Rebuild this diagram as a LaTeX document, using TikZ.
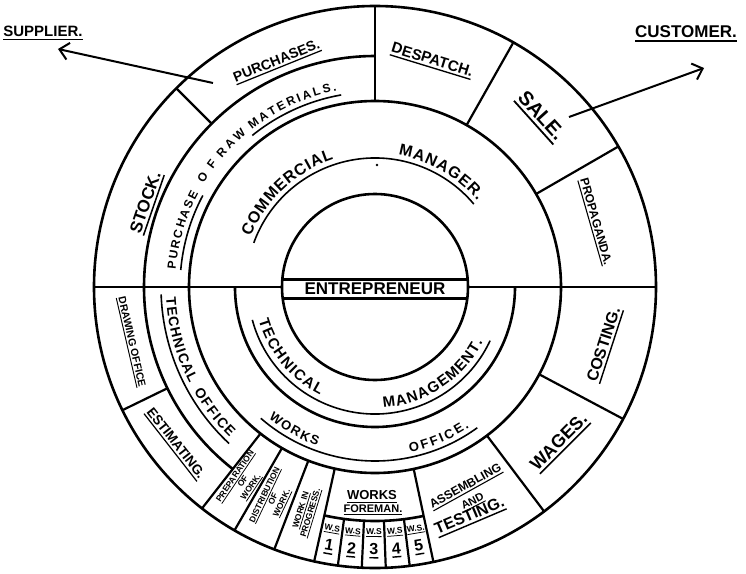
\documentclass[tikz,border=0pt]{standalone}
\usepackage{fontspec}
\newfontfamily\hand{Liberation Sans}
\usetikzlibrary{decorations.text,arrows.meta}
\newcommand\ulx[1]{\leavevmode\setbox0\hbox{#1}\rlap{\rule[-0.24em]{\wd0}{0.09em}}\box0}
\newcommand\hfs[1]{\fontsize{#1}{#1}\selectfont}
\newcommand\arctxt[5]{\path[decorate,decoration={text along path,text align={fit to path},text={|\hand\bfseries\hfs{#1}|#5}}] (#3:#2) arc[start angle=#3,end angle=#4,radius=#2];}
\begin{document}
\begin{tikzpicture}[x=1pt,y=1pt,
  ring/.style={line width=2.6pt},
  divider/.style={line width=2.2pt},
  uline/.style={line width=1.6pt},
  lab/.style={font=\hand\bfseries, inner sep=0pt, text=black},
  arr/.style={line width=2pt, -{Straight Barb[length=9pt,width=17pt,line width=2pt]}}
]
\fill[white] (-375,-286) rectangle (371,287);
\useasboundingbox (-375,-286) rectangle (371,287);

% rings
\draw[ring] (0,0) circle[radius=93pt];
\draw[ring] (0,0) circle[radius=186pt];
\draw[ring] (0,0) circle[radius=281pt];
\draw[ring] (180:140pt) arc[start angle=180,end angle=360,radius=140pt];
\draw[ring] (90:231pt) arc[start angle=90,end angle=232,radius=231pt];
\draw[ring] (257.5:234pt) arc[start angle=257.5,end angle=282,radius=234pt];
\draw[ring] (-281,0) -- (-93,0);
\draw[ring] (93,0) -- (281,0);
\draw[divider] (-92.7,7.5) -- (92.7,7.5);
\draw[divider] (-92.3,-11.5) -- (92.3,-11.5);

% radial dividers
\foreach \a/\r in {90/186pt, 135/231pt, 60.5/186pt, 30/186pt, 206/231pt, 232/186pt,
  240/186pt, 249/186pt, 257.5/186pt, 262.4/234pt, 267.3/234pt, 272.2/234pt,
  277.1/234pt, 282/186pt, 307/186pt, 332/186pt}
  \draw[divider] (\a:\r) -- (\a:281pt);

% underline arcs
\draw[uline] (160:129pt) arc[start angle=160,end angle=40,radius=129pt];
\draw[uline] (175:195pt) arc[start angle=175,end angle=152,radius=195pt];
\draw[uline] (129:195pt) arc[start angle=129,end angle=100,radius=195pt];
\draw[uline] (182:214pt) arc[start angle=182,end angle=227,radius=214pt];
\draw[uline] (195:127pt) arc[start angle=195,end angle=335,radius=127pt];
\draw[uline] (229:174pt) arc[start angle=229,end angle=306,radius=174pt];
\fill (2,122) circle[radius=1.3pt];

% curved texts
\arctxt{16}{134pt}{158}{108}{COMMERCIAL}
\arctxt{16}{134pt}{80}{40}{MANAGER.}
\arctxt{12}{200pt}{175}{152}{PURCHASE}
\arctxt{12}{200pt}{149}{142}{OF}
\arctxt{12}{200pt}{140}{130}{RAW}
\arctxt{12}{200pt}{128}{101}{MATERIALS.}
\arctxt{15}{121pt}{196}{243}{TECHNICAL}
\arctxt{15}{121pt}{274}{333}{MANAGEMENT.}
\arctxt{14}{209pt}{183}{207.5}{TECHNICAL}
\arctxt{14}{209pt}{210}{226}{OFFICE}
\arctxt{13}{169pt}{231}{250}{WORKS}
\arctxt{13}{169pt}{282}{304}{OFFICE.}

% straight labels
\node[lab,font=\hand\bfseries\hfs{17}] (entre) at (0,-2) {ENTREPRENEUR};
\node[lab,font=\hand\bfseries\hfs{17},rotate=71] (stock) at (-228,84) {\ulx{STOCK.}};
\node[lab,font=\hand\bfseries\hfs{14},rotate=22] (purch) at (-98,225) {\ulx{PURCHASES.}};
\node[lab,font=\hand\bfseries\hfs{15},rotate=-17] (desp) at (57,226) {\ulx{DESPATCH.}};
\node[lab,font=\hand\bfseries\hfs{20},rotate=-48] (sale) at (165,170) {\ulx{SALE.}};
\node[lab,font=\hand\bfseries\hfs{12},rotate=-74] (prop) at (220,65) {\ulx{PROPAGANDA.}};
\node[lab,font=\hand\bfseries\hfs{16},rotate=72] (cost) at (230,-58) {\ulx{COSTING.}};
\node[lab,font=\hand\bfseries\hfs{18},rotate=45] (wages) at (185,-156) {\ulx{WAGES.}};
\node[lab,font=\hand\bfseries\hfs{12},rotate=29] (assem) at (91,-200) {\ulx{ASSEMBLING}};
\node[lab,font=\hand\bfseries\hfs{11},rotate=27] (andl) at (98,-215) {\ulx{AND}};
\node[lab,font=\hand\bfseries\hfs{16},rotate=23] (test) at (95,-230) {\ulx{TESTING.}};
\node[lab,font=\hand\bfseries\hfs{13}] (works) at (-3,-210) {\ulx{WORKS}};
\node[lab,font=\hand\bfseries\hfs{11}] (foreman) at (-2,-223) {\ulx{FOREMAN.}};
\node[lab,font=\hand\bfseries\hfs{13.5},rotate=-52] (estim) at (-200,-157) {\ulx{ESTIMATING.}};
\node[lab,font=\hand\bfseries\hfs{10.5},rotate=-77] (drawo) at (-244,-55) {\ulx{DRAWING OFFICE}};
\node[lab,font=\hand\bfseries\fontsize{8.5}{9.5}\selectfont,align=center,rotate=56] (prep) at (236:235pt) {\ulx{PREPARATION}\\OF\\\ulx{WORK.}};
\node[lab,font=\hand\bfseries\fontsize{8.5}{9.5}\selectfont,align=center,rotate=64.5] (distr) at (244.5:235pt) {\ulx{DISTRIBUTION}\\OF\\\ulx{WORK.}};
\node[lab,font=\hand\bfseries\fontsize{8.5}{10}\selectfont,align=center,rotate=73] (wip) at (253:235pt) {\ulx{WORK IN}\\\ulx{PROGRESS.}};
\foreach \i/\a/\t in {1/259.95/W.S, 2/264.85/W.S, 3/269.75/W.S, 4/274.65/W.S, 5/279.55/W.S.} {
  \node[lab,font=\hand\bfseries\hfs{8.5},rotate=\a-270] (ws\i) at (\a:246pt) {\ulx{\t}};
  \node[lab,font=\hand\bfseries\hfs{16},rotate=\a-270] (num\i) at (\a:264pt) {\ulx{\i}};
}

% supplier / customer
\node[lab,font=\hand\bfseries\hfs{15}] (supplier) at (-332,254) {\ulx{SUPPLIER.}};
\node[lab,font=\hand\bfseries\hfs{17}] (customer) at (311,253) {\ulx{CUSTOMER.}};
\coordinate (supfrom) at (-162,204);
\coordinate (supto) at (-317,238);
\coordinate (custfrom) at (194,170);
\coordinate (custto) at (329,219);
\draw[arr] (supfrom) -- (supto);
\draw[arr] (custfrom) -- (custto);
\end{tikzpicture}
\end{document}
